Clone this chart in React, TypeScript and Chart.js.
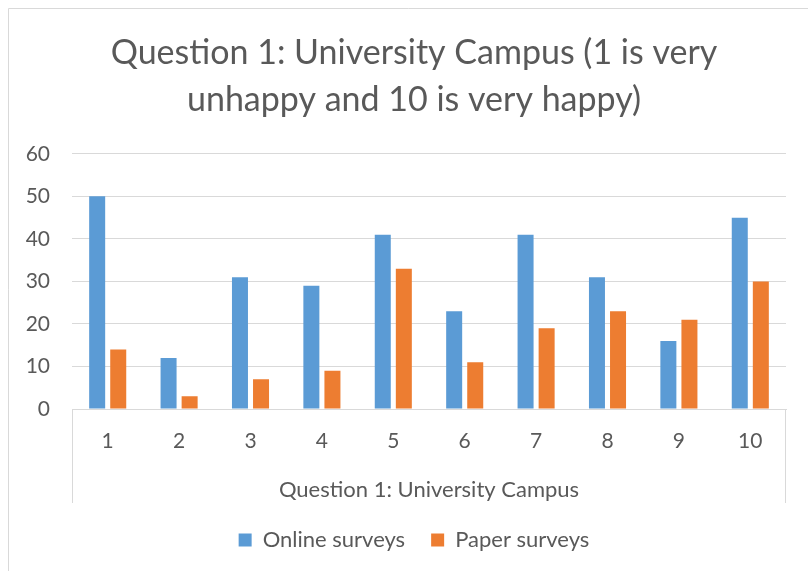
import React, { useEffect, useRef } from "react";
import { Chart, registerables } from "chart.js";

Chart.register(...registerables);

const categories = ["1", "2", "3", "4", "5", "6", "7", "8", "9", "10"];
const onlineSurveys = [50, 12, 31, 29, 41, 23, 41, 31, 16, 45];
const paperSurveys = [14, 3, 7, 9, 33, 11, 19, 23, 21, 30];
const titleLines = ["Question 1: University Campus (1 is very", "unhappy and 10 is very happy)"];
const xAxisTitle = "Question 1: University Campus";

const FONT = "Lato";
const TEXT = "#595959";
const GRID = "#d9d9d9";

const framePlugin = {
  id: "frame",
  afterDraw(chart: any) {
    const ctx = chart.ctx;
    const x = chart.scales.x;
    ctx.save();
    ctx.strokeStyle = GRID;
    ctx.lineWidth = 1;
    ctx.beginPath();
    ctx.moveTo(8.5, 571);
    ctx.lineTo(8.5, 8.5);
    ctx.lineTo(808, 8.5);
    const l = Math.round(x.left) + 0.5;
    const r = Math.round(x.right) - 0.5;
    ctx.moveTo(l, x.top);
    ctx.lineTo(l, x.bottom);
    ctx.moveTo(r, x.top);
    ctx.lineTo(r, x.bottom);
    ctx.stroke();
    ctx.restore();
  },
};

export default function App() {
  const ref = useRef<HTMLCanvasElement>(null);
  useEffect(() => {
    if (!ref.current) return;
    const chart = new Chart(ref.current, {
      type: "bar",
      data: {
        labels: categories,
        datasets: [
          {
            label: "Online surveys",
            data: onlineSurveys,
            backgroundColor: "#5B9BD5",
            categoryPercentage: 0.59,
            barPercentage: 0.76,
          },
          {
            label: "Paper surveys",
            data: paperSurveys,
            backgroundColor: "#ED7D31",
            categoryPercentage: 0.59,
            barPercentage: 0.76,
          },
        ],
      },
      options: {
        animation: false,
        responsive: false,
        maintainAspectRatio: false,
        layout: { padding: { left: 20, right: 0, top: 0, bottom: 10 } },
        plugins: {
          title: {
            display: true,
            text: titleLines,
            color: TEXT,
            font: { family: FONT, size: 34, weight: "normal", lineHeight: 1.38 },
            padding: { top: 30, bottom: 30 },
          },
          legend: {
            position: "bottom",
            labels: {
              color: TEXT,
              font: { family: FONT, size: 22 },
              boxWidth: 13,
              boxHeight: 13,
              padding: 26,
            },
          },
          tooltip: { enabled: false },
        },
        scales: {
          x: {
            grid: { display: false },
            border: { display: true, color: GRID, width: 1 },
            ticks: { color: TEXT, font: { family: FONT, size: 21 }, padding: 12 },
            title: {
              display: true,
              text: xAxisTitle,
              color: TEXT,
              font: { family: FONT, size: 22 },
              padding: { top: 10, bottom: 0 },
            },
            afterFit(scale: any) {
              scale.height = 94;
            },
          },
          y: {
            min: 0,
            max: 60,
            grid: { color: GRID, lineWidth: 1, drawTicks: false },
            border: { display: false },
            ticks: {
              stepSize: 10,
              color: TEXT,
              font: { family: FONT, size: 21 },
              padding: 22,
            },
            afterFit(scale: any) {
              scale.width = 52;
            },
          },
          rightSpace: {
            position: "right",
            display: true,
            grid: { display: false },
            border: { display: false },
            ticks: { display: false },
            afterFit(scale: any) {
              scale.width = 22;
            },
          },
        },
      },
      plugins: [framePlugin],
    });
    return () => chart.destroy();
  }, []);
  return (
    <div style={{ position: "fixed", left: 0, top: 0, width: 808, height: 571, background: "#fff" }}>
      <canvas ref={ref} width={808} height={571} style={{ width: 808, height: 571, display: "block" }} />
    </div>
  );
}
